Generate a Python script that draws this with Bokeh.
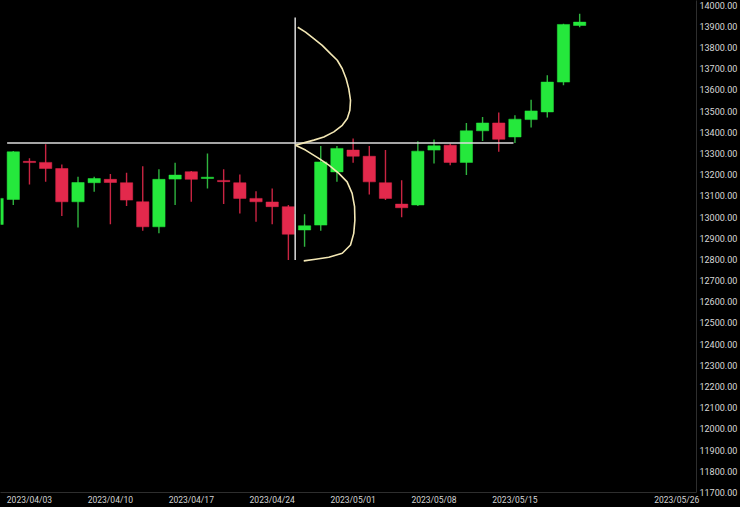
import numpy as np
from bokeh.plotting import figure
from bokeh.models import Range1d, FixedTicker, PrintfTickFormatter, ColumnDataSource
from bokeh.embed import file_html
from bokeh.resources import INLINE

# ---- data (trading-day index 0 = 2023/04/03) ----
day_index = list(range(-2, 35))
opens  = [12965, 13083, 13263, 13258, 13229, 13072, 13162, 13178, 13162, 13072,
          12954, 13179, 13214, 13182, 13173, 13162, 13088, 13071, 13049, 12939,
          12962, 13213, 13316, 13287, 13162, 13061, 13057, 13316, 13339, 13258,
          13407, 13444, 13378, 13460, 13496, 13637, 13904]
highs  = [13095, 13312, 13277, 13344, 13248, 13190, 13190, 13203, 13209, 13240,
          13226, 13256, 13217, 13300, 13225, 13201, 13122, 13135, 13057, 13013,
          13335, 13335, 13371, 13335, 13316, 13174, 13358, 13366, 13347, 13444,
          13472, 13493, 13480, 13554, 13669, 13912, 13959]
lows   = [12955, 13057, 13154, 13166, 13005, 12951, 13119, 12966, 13052, 12935,
          12923, 13057, 13072, 13135, 13061, 13017, 12978, 12966, 12797, 12860,
          12935, 13166, 13256, 13107, 13080, 12999, 13052, 13253, 13245, 13198,
          13359, 13308, 13350, 13423, 13470, 13622, 13896]
closes = [13088, 13308, 13257, 13229, 13072, 13163, 13182, 13163, 13080, 12954,
          13178, 13198, 13178, 13188, 13167, 13088, 13072, 13049, 12919, 12959,
          13260, 13324, 13287, 13166, 13088, 13044, 13311, 13336, 13258, 13407,
          13444, 13367, 13462, 13501, 13637, 13909, 13920]

tick_index = [0, 5, 10, 15, 20, 25, 30, 40]
tick_labels = ["2023/04/03", "2023/04/10", "2023/04/17", "2023/04/24",
               "2023/05/01", "2023/05/08", "2023/05/15", "2023/05/26"]
price_ticks = list(range(11700, 14001, 100))

# drawn annotations (index, price)
level_price = 13349
level_from, level_to = -1.38, 29.91
marker_index = 16.42
marker_low, marker_high = 12797, 13942
upper_curve_x = [16.58, 17.06, 17.57, 18.09, 18.60, 19.02, 19.33, 19.57, 19.73, 19.84,
                 19.80, 19.64, 19.33, 18.81, 18.19, 17.57, 16.95, 16.44]
upper_curve_p = [13896, 13873, 13842, 13810, 13771, 13740, 13700, 13653, 13606, 13551,
                 13504, 13465, 13433, 13402, 13378, 13363, 13350, 13339]
lower_curve_x = [16.44, 17.06, 17.88, 18.50, 19.12, 19.63, 19.94, 20.09, 20.11, 20.04,
                 19.84, 19.33, 18.50, 17.68, 16.95]
lower_curve_p = [13339, 13316, 13277, 13245, 13206, 13166, 13112, 13049, 12986, 12923,
                 12868, 12829, 12810, 12801, 12793]

GREEN = "#25e83c"
RED = "#e3294c"
GREEN_WICK = "#2fb43f"
RED_WICK = "#c92442"

o = np.array(opens); c = np.array(closes)
up = c >= o
src = ColumnDataSource(dict(
    x=day_index, top=np.maximum(o, c), bottom=np.minimum(o, c),
    high=highs, low=lows,
    color=[GREEN if u else RED for u in up],
    wick=[GREEN_WICK if u else RED_WICK for u in up],
))

p = figure(width=740, height=507, output_backend="svg", toolbar_location=None,
           x_range=Range1d(-1.79, 41.22), y_range=Range1d(11700, 14022),
           y_axis_location="right", min_border_left=0, min_border_top=0,
           min_border_right=44, min_border_bottom=14)
p.background_fill_color = "black"
p.border_fill_color = "black"
p.outline_line_color = None
p.xgrid.visible = False
p.ygrid.visible = False

p.segment(x0="x", y0="low", x1="x", y1="high", source=src, line_color="wick", line_width=1.4)
p.vbar(x="x", width=0.76, top="top", bottom="bottom", source=src,
       fill_color="color", line_color="color", line_width=0.5)

p.line([level_from, level_to], [level_price, level_price], line_color="#dcdcdc", line_width=1.5)
p.line([marker_index, marker_index], [marker_low, marker_high], line_color="#dcdcdc", line_width=1.5)
p.line(upper_curve_x, upper_curve_p, line_color="#f3e7b4", line_width=1.6)
p.line(lower_curve_x, lower_curve_p, line_color="#f3e7b4", line_width=1.6)

xa = p.xaxis[0]
xa.ticker = FixedTicker(ticks=tick_index)
xa.major_label_overrides = {t: l for t, l in zip(tick_index, tick_labels)}
xa.axis_line_color = "#2e2e2e"
xa.major_tick_line_color = None
xa.minor_tick_line_color = None
xa.major_tick_out = 0
xa.major_tick_in = 0
xa.major_label_standoff = 2
xa.major_label_text_color = "#d4d4d4"
xa.major_label_text_font = "Roboto"
xa.major_label_text_font_size = "8.5px"

ya = p.yaxis[0]
ya.ticker = FixedTicker(ticks=price_ticks)
ya.formatter = PrintfTickFormatter(format="%.2f")
ya.axis_line_color = "#2e2e2e"
ya.major_tick_line_color = None
ya.minor_tick_line_color = None
ya.major_tick_out = 0
ya.major_tick_in = 0
ya.major_label_standoff = 3
ya.major_label_text_color = "#d8d8d8"
ya.major_label_text_font = "Roboto"
ya.major_label_text_font_size = "9px"

html = file_html(p, INLINE)
html = html.replace("<head>", "<head><style>html,body{margin:0;padding:0;background:#000;overflow:hidden}</style>", 1)
open("out.html", "w").write(html)
